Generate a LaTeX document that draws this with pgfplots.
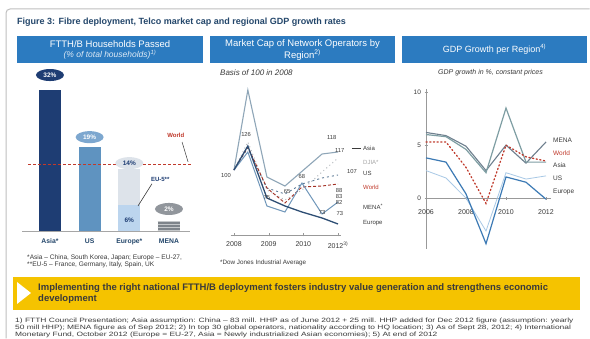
\documentclass[border=0pt]{standalone}
\usepackage{fontspec}
\setmainfont{Liberation Sans}
\usepackage{graphicx}
\usepackage{pgfplots}
\pgfplotsset{compat=1.18}
\usetikzlibrary{shapes.geometric,patterns}
\definecolor{hdr}{HTML}{2C7BC0}
\definecolor{ttl}{HTML}{24476B}
\definecolor{asiab}{HTML}{1E3D73}
\definecolor{usb}{HTML}{5F93C0}
\definecolor{usell}{HTML}{7DA7CF}
\definecolor{eub}{HTML}{DDE3EA}
\definecolor{eu5}{HTML}{BCD5EE}
\definecolor{menab}{HTML}{7E848A}
\definecolor{worldr}{HTML}{C0392B}
\definecolor{mAsia}{HTML}{8FA6B8}
\definecolor{mDJ}{HTML}{B8BCC0}
\definecolor{mUS}{HTML}{5D7A96}
\definecolor{mMENA}{HTML}{7097BA}
\definecolor{mEur}{HTML}{2E4E74}
\definecolor{gAsia}{HTML}{7E9EA3}
\definecolor{gMENA}{HTML}{6E7F8E}
\definecolor{gUS}{HTML}{A9C9E6}
\definecolor{gEur}{HTML}{3C7AB5}
\definecolor{banner}{HTML}{F5C300}
\definecolor{txt}{HTML}{3A3A3A}
\newcommand{\fs}[1]{\fontsize{#1}{#1}\selectfont}
\begin{document}
\begin{tikzpicture}
\begin{scope}[x=1pt,y=1pt]
\fill[white] (0,0) rectangle (590,339);
\draw[black!25, line width=1pt, rounded corners=4pt] (6,0.5) -- (6,330) -- (589.5,330);
\node[anchor=west, text=ttl, font=\fs{9}\bfseries, inner sep=0pt] at (17,317) {Figure 3: Fibre deployment, Telco market cap and regional GDP growth rates};
\fill[hdr] (17,276) rectangle (203,303);
\fill[hdr] (210,276) rectangle (395,303);
\fill[hdr] (402,276) rectangle (587,303);
\node[text=white, font=\fs{9.5}, inner sep=0pt] at (110,295) {FTTH/B Households Passed};
\node[text=white!85!hdr, font=\fs{8.5}\itshape, inner sep=0pt] at (110,284) {(\% of total households)\textsuperscript{1)}};
\node[text=white, font=\fs{9.5}, inner sep=0pt] at (302.5,295) {Market Cap of Network Operators by};
\node[text=white, font=\fs{9.5}, inner sep=0pt] at (302.5,284) {Region\textsuperscript{2)}};
\node[text=white, font=\fs{9}, inner sep=0pt] at (494.5,290) {GDP Growth per Region\textsuperscript{4)}};
\node[anchor=west, font=\fs{8}\itshape, text=txt, inner sep=0pt] at (220,266) {Basis of 100 in 2008};
\node[anchor=west, font=\fs{7}\itshape, text=txt, inner sep=0pt] at (438,266) {GDP growth in \%, constant prices};
\node[anchor=west, font=\fs{6.6}, text=txt, inner sep=0pt] at (27,81) {*Asia -- China, South Korea, Japan; Europe -- EU-27,};
\node[anchor=west, font=\fs{6.6}, text=txt, inner sep=0pt] at (27,74) {**EU-5 -- France, Germany, Italy, Spain, UK};
\node[anchor=west, font=\fs{6.3}, text=txt, inner sep=0pt] at (220,76) {*Dow Jones Industrial Average};
\end{scope}

% ---------------- left bar chart
\begin{axis}[at={(22pt,108pt)}, anchor=south west, scale only axis,
  width=168pt, height=149.8pt, xmin=-0.705, xmax=3.53, ymin=0, ymax=34,
  axis x line*=bottom, axis y line=none, clip=false,
  x axis line style={black!35, line width=0.8pt},
  xtick={0,1,2,3}, xticklabels={Asia*, US, Europe*, MENA},
  major tick length=0pt,
  xticklabel style={font=\fs{6.8}\bfseries, text=ttl, yshift=-4pt}]
\addplot[ybar, bar width=22pt, fill=asiab, draw=none] coordinates {(0,32)};
\addplot[ybar, bar width=22pt, fill=usb, draw=none] coordinates {(1,19)};
\addplot[ybar, bar width=22pt, fill=eub, draw=none] coordinates {(2,14)};
\addplot[ybar, bar width=22pt, fill=eu5, draw=none] coordinates {(2,6)};
\addplot[ybar, bar width=22pt, fill=menab, draw=none, postaction={pattern=horizontal lines, pattern color=white!55!menab}] coordinates {(3,2.3)};
\addplot[worldr, line width=1.1pt, dash pattern=on 2.5pt off 2.5pt] coordinates {(-0.55,15) (3.55,15)};
\node[ellipse, fill=asiab, text=white, minimum width=28pt, minimum height=12pt, inner sep=0pt, font=\fs{6.5}\bfseries] at (axis cs:0,35.4) {32\%};
\node[ellipse, fill=usell, text=white, minimum width=28pt, minimum height=12pt, inner sep=0pt, font=\fs{6.5}\bfseries] at (axis cs:1,21.3) {19\%};
\node[ellipse, fill=eub, text=asiab, minimum width=28pt, minimum height=12pt, inner sep=0pt, font=\fs{6.5}\bfseries] at (axis cs:2,15.4) {14\%};
\node[ellipse, fill=menab!85, text=white, minimum width=28pt, minimum height=12pt, inner sep=0pt, font=\fs{6.5}\bfseries] at (axis cs:3,5.0) {2\%};
\node[text=asiab, font=\fs{6.5}\bfseries, inner sep=0pt] at (axis cs:2,2.5) {6\%};
\node[text=asiab, font=\fs{6}\bfseries, inner sep=0pt] at (axis cs:2.78,11.8) {EU-5**};
\draw[txt, line width=0.6pt] (axis cs:2.57,10.7) -- (axis cs:2.22,5.7);
\node[text=worldr, font=\fs{6}\bfseries, inner sep=0pt] at (axis cs:3.17,21.8) {World};
\draw[txt, line width=0.5pt] (axis cs:3.33,20.2) -- (axis cs:3.48,15.7);
\end{axis}

% ---------------- middle line chart
\begin{axis}[at={(230.5pt,104pt)}, anchor=south west, scale only axis,
  width=111pt, height=155pt, xmin=-0.1, xmax=3.1, ymin=35, ymax=190,
  axis x line*=bottom, axis y line=none, clip=false,
  x axis line style={black!40, line width=0.6pt},
  xtick={0,1,2,3}, xticklabels={2008,2009,2010,2012\textsuperscript{3)}},
  major tick length=3pt, tick align=center, x tick style={black!40},
  xticklabel style={font=\fs{7}, text=txt, yshift=-2pt}]
\addplot[mDJ, line width=1pt, dash pattern=on 1pt off 3pt] coordinates {(0,100) (0.4,128) (0.95,80) (1.47,70) (1.96,80) (2.54,98) (3,112)};
\addplot[mAsia, line width=1.1pt] coordinates {(0,100) (0.4,180) (0.95,93) (1.47,84) (2.54,116) (3,118)};
\addplot[mUS, line width=0.9pt, dash pattern=on 2pt off 3pt] coordinates {(0,100) (0.4,122) (0.95,82) (1.47,76) (1.96,86) (2.54,92) (3,95)};
\addplot[worldr!85!black, line width=0.9pt, dash pattern=on 3pt off 2pt] coordinates {(0,100) (0.4,123) (0.95,82) (1.47,67) (1.96,83) (2.54,84) (3,86)};
\addplot[mMENA, line width=1pt] coordinates {(0,100) (0.4,118) (0.95,64) (1.47,58) (1.96,87) (2.54,56) (3,68)};
\addplot[mEur, line width=1.3pt] coordinates {(0,100) (0.4,124) (0.95,72) (1.47,64) (1.96,58) (2.54,52) (3,46)};
\begin{scope}[font=\fs{5.8}, text=txt, inner sep=0pt]
\node at (axis cs:-0.23,94) {100};
\node at (axis cs:0.35,135) {126};
\node at (axis cs:0.95,72) {75};
\node at (axis cs:1.53,78) {65};
\node at (axis cs:1.96,93) {68};
\node at (axis cs:2.54,57) {73};
\node at (axis cs:2.82,132) {118};
\node at (axis cs:3.05,119) {117};
\node at (axis cs:3.4,98) {107};
\node at (axis cs:3.03,79) {88};
\node at (axis cs:3.03,73) {83};
\node at (axis cs:3.03,67) {82};
\node at (axis cs:3.05,56) {73};
\end{scope}
\draw[txt, line width=0.5pt] (axis cs:3.4,122) -- (axis cs:3.65,122);
\begin{scope}[font=\fs{6}, inner sep=0pt, anchor=west]
\node[text=txt] at (axis cs:3.72,122) {Asia};
\node[text=black!35] at (axis cs:3.72,108) {DJIA*};
\node[text=txt] at (axis cs:3.72,97) {US};
\node[text=worldr] at (axis cs:3.72,83) {World};
\node[text=txt] at (axis cs:3.72,63) {MENA\textsuperscript{*}};
\node[text=txt] at (axis cs:3.72,47) {Europe};
\end{scope}
\end{axis}

% ---------------- right line chart (x: 0 = 2006 ... 6 = 2012)
\begin{axis}[at={(426pt,90pt)}, anchor=south west, scale only axis,
  width=125pt, height=160pt, xmin=0, xmax=6.25, ymin=-4.8, ymax=10.3,
  axis x line=middle, axis y line=left, clip=false,
  axis line style={-, black!40, line width=0.6pt},
  hide obscured x ticks=false, hide obscured y ticks=false,
  xtick={0,2,4,6}, xticklabels={2006,2008,2010,2012},
  ytick={0,5,10}, yticklabels={0,5,10},
  major tick length=3pt, tick style={black!40},
  xticklabel style={font=\fs{7}, text=txt, yshift=-6pt},
  yticklabel style={font=\fs{6.5}, text=txt}]
\addplot[gUS, line width=0.8pt] coordinates {(0,2.6) (1,1.9) (2,0.0) (3,-3.1) (4,2.4) (5,1.8) (6,2.1)};
\addplot[gMENA, line width=1.1pt] coordinates {(0,6.2) (1,5.9) (2,4.9) (3,2.6) (4,5.0) (5,3.3) (6,5.3)};
\addplot[gAsia, line width=1.2pt] coordinates {(0,6.0) (1,5.8) (2,4.6) (3,2.4) (4,8.5) (5,3.4) (6,3.4)};
\addplot[worldr, line width=1.3pt, dash pattern=on 1.2pt off 2.5pt, line cap=round] coordinates {(0,5.3) (1,5.3) (2,2.9) (3,-0.5) (4,5.0) (5,3.9) (6,3.5)};
\addplot[gEur, line width=1.2pt] coordinates {(0,3.8) (1,3.4) (2,0.4) (3,-4.3) (4,2.0) (5,1.5) (6,-0.1)};
\begin{scope}[font=\fs{6.5}, inner sep=0pt, anchor=west]
\node[text=txt] at (axis cs:6.35,5.5) {MENA};
\node[text=worldr] at (axis cs:6.35,4.25) {World};
\node[text=txt] at (axis cs:6.35,3.1) {Asia};
\node[text=txt] at (axis cs:6.35,1.9) {US};
\node[text=txt] at (axis cs:6.35,0.57) {Europe};
\end{scope}
\end{axis}

\begin{scope}[x=1pt,y=1pt]
\fill[banner] (13,29) rectangle (580,62);
\fill[white] (17,57) -- (31,46) -- (17,35) -- cycle;
\node[anchor=west, font=\fs{9.5}\bfseries, text=txt, inner sep=0pt] at (38,51) {Implementing the right national FTTH/B deployment fosters industry value generation and strengthens economic};
\node[anchor=west, font=\fs{9.5}\bfseries, text=txt, inner sep=0pt] at (38,40) {development};
\begin{scope}[font=\fs{6.2}, text=txt, inner sep=0pt, anchor=west]
\node at (15,18) {\scalebox{1.36}[1]{1) FTTH Council Presentation; Asia assumption: China -- 83 mill. HHP as of June 2012 + 25 mill. HHP added for Dec 2012 figure (assumption: yearly}};
\node at (15,11) {\scalebox{1.36}[1]{50 mill HHP); MENA figure as of Sep 2012; 2) In top 30 global operators, nationality according to HQ location; 3) As of Sept 28, 2012; 4) International}};
\node at (15,4) {\scalebox{1.36}[1]{Monetary Fund, October 2012 (Europe = EU-27, Asia = Newly industrialized Asian economies); 5) At end of 2012}};
\end{scope}
\end{scope}
\end{tikzpicture}
\end{document}
